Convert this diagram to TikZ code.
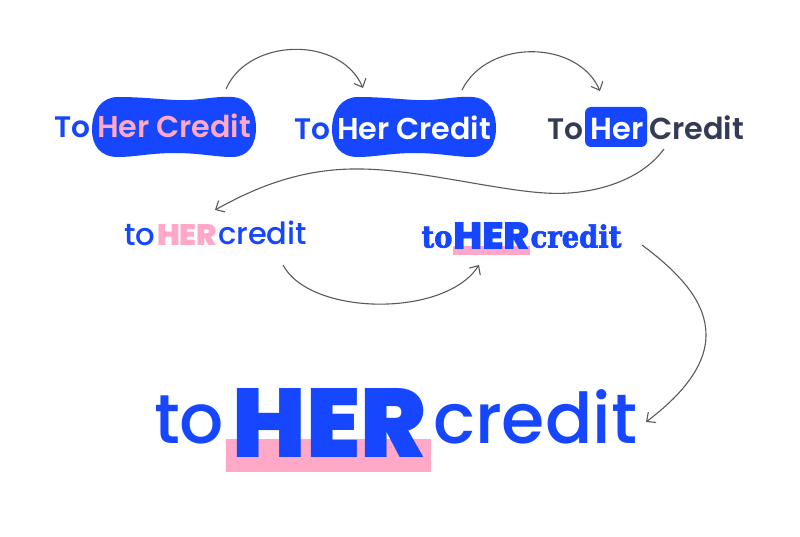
\documentclass[tikz,border=0pt]{standalone}
\usepackage{fontspec}
\usepackage{graphicx}
\usetikzlibrary{arrows.meta}
\newfontfamily\popmed{Poppins Medium}
\newfontfamily\popsemi{Poppins SemiBold}
\newfontfamily\popblack{Poppins Black}
\newfontfamily\fatserif{DejaVu Serif Condensed Bold}[FakeBold=2]
\definecolor{brandblue}{HTML}{1746FF}
\definecolor{brandpink}{HTML}{FFA8C8}
\definecolor{brandnavy}{HTML}{343B55}
\definecolor{linegray}{HTML}{5A5A5A}
\tikzset{
  word/.style={inner sep=0pt,outer sep=0pt,anchor=base west,text=brandblue},
  flow/.style={draw=linegray,line width=1.1pt,-{Straight Barb[length=7pt,width=13pt,line width=1.1pt]}},
  blobfill/.style={fill=brandblue,draw=none},
  pinkbar/.style={fill=brandpink,draw=none}
}
\begin{document}
\begin{tikzpicture}[x=1pt,y=-1pt]
\useasboundingbox (0,0) rectangle (800,537);
% blobs
\path[blobfill] (118,97) .. controls (150,97) and (170,101) .. (190,100)
  .. controls (205,99) and (220,96) .. (232,97)
  .. controls (250,98) and (256,113) .. (256,128)
  .. controls (256,145) and (248,157) .. (232,157)
  .. controls (215,157) and (200,153) .. (175,153)
  .. controls (150,153) and (135,157) .. (118,157)
  .. controls (100,157) and (92,145) .. (92,130)
  .. controls (92,110) and (102,97) .. (118,97) -- cycle;
\path[blobfill] (358,97) .. controls (390,97) and (410,101) .. (430,100)
  .. controls (445,99) and (460,96) .. (472,97)
  .. controls (490,98) and (496,113) .. (496,128)
  .. controls (496,145) and (488,157) .. (472,157)
  .. controls (455,157) and (440,153) .. (415,153)
  .. controls (390,153) and (375,157) .. (358,157)
  .. controls (340,157) and (332,145) .. (332,130)
  .. controls (332,110) and (342,97) .. (358,97) -- cycle;
\path[blobfill,rounded corners=6pt] (585,107) rectangle (647,147);
\path[pinkbar] (453,246) rectangle (530,255);
\path[pinkbar] (226,439) rectangle (431,472);
% row 1
\node[word] (a1) at (54.5,137.5) {\resizebox{36pt}{!}{\popsemi To}};
\node[word,text=brandpink] (a2) at (97,138) {\resizebox{154pt}{!}{\popsemi Her Credit}};
\node[word] (b1) at (294.5,139.5) {\resizebox{36pt}{!}{\popsemi To}};
\node[word,text=white] (b2) at (337,139.5) {\resizebox{154pt}{!}{\popsemi Her Credit}};
\node[word,text=brandnavy] (c1) at (547.5,139.5) {\resizebox{36pt}{!}{\popsemi To}};
\node[word,text=white] (c2) at (590.5,139.5) {\resizebox{53pt}{!}{\popsemi Her}};
\node[word,text=brandnavy] (c3) at (649,139.5) {\resizebox{95pt}{!}{\popsemi Credit}};
% row 2
\node[word] (d1) at (124,245) {\resizebox{31pt}{!}{\popmed to}};
\node[word,text=brandpink] (d2) at (157,245) {\resizebox{60pt}{21pt}{\popblack HER}};
\node[word] (d3) at (218,245) {\resizebox{89pt}{!}{\popmed credit}};
\node[word] (e1) at (421.5,247.5) {\resizebox{31pt}{!}{\fatserif to}};
\node[word] (e2) at (453,250) {\resizebox{77pt}{27pt}{\popblack HER}};
\node[word] (e3) at (530.5,247.5) {\resizebox{91pt}{!}{\fatserif credit}};
% big
\node[word] (f1) at (154,443) {\resizebox{70pt}{!}{\popmed to}};
\node[word] (f2) at (232.5,457) {\resizebox{193pt}{69pt}{\popblack HER}};
\node[word] (f3) at (433,443) {\resizebox{204pt}{!}{\popmed credit}};
% connector ends
\coordinate (p1) at (226,89); \coordinate (q1) at (363,88);
\coordinate (p2) at (462,90); \coordinate (q2) at (600,91);
\coordinate (p3) at (664,149); \coordinate (q3) at (215,210);
\coordinate (p4) at (283,265); \coordinate (q4) at (479,265);
\coordinate (p5) at (642,245); \coordinate (q5) at (646,422);
\draw[flow] (p1) .. controls (248,38) and (340,35) .. (q1);
\draw[flow] (p2) .. controls (488,38) and (578,40) .. (q2);
\draw[flow] (p3) .. controls (640,182) and (590,196) .. (545,193)
  .. controls (495,190) and (420,170) .. (362,169)
  .. controls (310,168) and (265,182) .. (q3);
\draw[flow] (p4) .. controls (310,316) and (445,318) .. (q4);
\draw[flow] (p5) .. controls (685,277) and (706,305) .. (706,335)
  .. controls (706,370) and (675,400) .. (q5);
\end{tikzpicture}
\end{document}
